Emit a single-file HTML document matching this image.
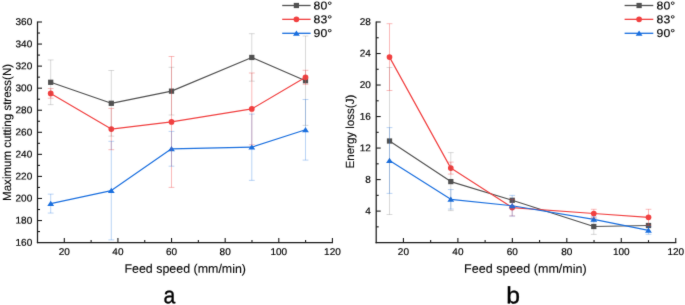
<!DOCTYPE html>
<html><head><meta charset="utf-8"><style>
html,body{margin:0;padding:0;background:#fff;width:685px;height:305px;overflow:hidden}
svg{display:block;font-family:"Liberation Sans",sans-serif;text-rendering:geometricPrecision}
text{fill:#000;stroke:#000;stroke-width:0.18px;stroke-linejoin:round}
text.t{stroke-width:0.12px;fill:#0a0a0a;stroke:#0a0a0a}
text.b{fill:#000;stroke:#000;stroke-width:0.35px}
</style></head><body>
<svg width="685" height="305" viewBox="0 0 685 305">
<defs><filter id="bl" filterUnits="userSpaceOnUse" x="0" y="0" width="685" height="305" color-interpolation-filters="sRGB"><feConvolveMatrix order="3" kernelMatrix="0.015 0.065 0.015 0.065 0.68 0.065 0.015 0.065 0.015" divisor="1" edgeMode="duplicate"/></filter></defs>
<g filter="url(#bl)"><rect width="685" height="305" fill="#fff"/>
<line x1="37.50" y1="21.50" x2="37.50" y2="243.20" stroke="#1a1a1a" stroke-width="1.25" />
<line x1="36.90" y1="242.60" x2="333.01" y2="242.60" stroke="#1a1a1a" stroke-width="1.25" />
<line x1="64.31" y1="242.60" x2="64.31" y2="238.10" stroke="#1a1a1a" stroke-width="1.1" />
<text transform="translate(64.31,255.00) rotate(0.1) scale(1.02,1.0)" font-size="9.8" text-anchor="middle">20</text>
<line x1="117.93" y1="242.60" x2="117.93" y2="238.10" stroke="#1a1a1a" stroke-width="1.1" />
<text transform="translate(117.93,255.00) rotate(0.1) scale(1.02,1.0)" font-size="9.8" text-anchor="middle">40</text>
<line x1="171.55" y1="242.60" x2="171.55" y2="238.10" stroke="#1a1a1a" stroke-width="1.1" />
<text transform="translate(171.55,255.00) rotate(0.1) scale(1.02,1.0)" font-size="9.8" text-anchor="middle">60</text>
<line x1="225.17" y1="242.60" x2="225.17" y2="238.10" stroke="#1a1a1a" stroke-width="1.1" />
<text transform="translate(225.17,255.00) rotate(0.1) scale(1.02,1.0)" font-size="9.8" text-anchor="middle">80</text>
<line x1="278.79" y1="242.60" x2="278.79" y2="238.10" stroke="#1a1a1a" stroke-width="1.1" />
<text transform="translate(278.79,255.00) rotate(0.1) scale(1.02,1.0)" font-size="9.8" text-anchor="middle">100</text>
<line x1="332.41" y1="242.60" x2="332.41" y2="238.10" stroke="#1a1a1a" stroke-width="1.1" />
<text transform="translate(332.41,255.00) rotate(0.1) scale(1.02,1.0)" font-size="9.8" text-anchor="middle">120</text>
<line x1="91.12" y1="242.60" x2="91.12" y2="240.10" stroke="#1a1a1a" stroke-width="1.1" />
<line x1="144.74" y1="242.60" x2="144.74" y2="240.10" stroke="#1a1a1a" stroke-width="1.1" />
<line x1="198.36" y1="242.60" x2="198.36" y2="240.10" stroke="#1a1a1a" stroke-width="1.1" />
<line x1="251.98" y1="242.60" x2="251.98" y2="240.10" stroke="#1a1a1a" stroke-width="1.1" />
<line x1="305.60" y1="242.60" x2="305.60" y2="240.10" stroke="#1a1a1a" stroke-width="1.1" />
<text transform="translate(32.20,245.70) rotate(0.1) scale(1.02,1.0)" font-size="9.8" text-anchor="end">160</text>
<line x1="37.50" y1="220.54" x2="42.00" y2="220.54" stroke="#1a1a1a" stroke-width="1.1" />
<text transform="translate(32.20,223.64) rotate(0.1) scale(1.02,1.0)" font-size="9.8" text-anchor="end">180</text>
<line x1="37.50" y1="198.48" x2="42.00" y2="198.48" stroke="#1a1a1a" stroke-width="1.1" />
<text transform="translate(32.20,201.58) rotate(0.1) scale(1.02,1.0)" font-size="9.8" text-anchor="end">200</text>
<line x1="37.50" y1="176.42" x2="42.00" y2="176.42" stroke="#1a1a1a" stroke-width="1.1" />
<text transform="translate(32.20,179.52) rotate(0.1) scale(1.02,1.0)" font-size="9.8" text-anchor="end">220</text>
<line x1="37.50" y1="154.36" x2="42.00" y2="154.36" stroke="#1a1a1a" stroke-width="1.1" />
<text transform="translate(32.20,157.46) rotate(0.1) scale(1.02,1.0)" font-size="9.8" text-anchor="end">240</text>
<line x1="37.50" y1="132.30" x2="42.00" y2="132.30" stroke="#1a1a1a" stroke-width="1.1" />
<text transform="translate(32.20,135.40) rotate(0.1) scale(1.02,1.0)" font-size="9.8" text-anchor="end">260</text>
<line x1="37.50" y1="110.24" x2="42.00" y2="110.24" stroke="#1a1a1a" stroke-width="1.1" />
<text transform="translate(32.20,113.34) rotate(0.1) scale(1.02,1.0)" font-size="9.8" text-anchor="end">280</text>
<line x1="37.50" y1="88.18" x2="42.00" y2="88.18" stroke="#1a1a1a" stroke-width="1.1" />
<text transform="translate(32.20,91.28) rotate(0.1) scale(1.02,1.0)" font-size="9.8" text-anchor="end">300</text>
<line x1="37.50" y1="66.12" x2="42.00" y2="66.12" stroke="#1a1a1a" stroke-width="1.1" />
<text transform="translate(32.20,69.22) rotate(0.1) scale(1.02,1.0)" font-size="9.8" text-anchor="end">320</text>
<line x1="37.50" y1="44.06" x2="42.00" y2="44.06" stroke="#1a1a1a" stroke-width="1.1" />
<text transform="translate(32.20,47.16) rotate(0.1) scale(1.02,1.0)" font-size="9.8" text-anchor="end">340</text>
<line x1="37.50" y1="22.00" x2="42.00" y2="22.00" stroke="#1a1a1a" stroke-width="1.1" />
<text transform="translate(32.20,25.10) rotate(0.1) scale(1.02,1.0)" font-size="9.8" text-anchor="end">360</text>
<line x1="37.50" y1="231.57" x2="40.00" y2="231.57" stroke="#1a1a1a" stroke-width="1.1" />
<line x1="37.50" y1="209.51" x2="40.00" y2="209.51" stroke="#1a1a1a" stroke-width="1.1" />
<line x1="37.50" y1="187.45" x2="40.00" y2="187.45" stroke="#1a1a1a" stroke-width="1.1" />
<line x1="37.50" y1="165.39" x2="40.00" y2="165.39" stroke="#1a1a1a" stroke-width="1.1" />
<line x1="37.50" y1="143.33" x2="40.00" y2="143.33" stroke="#1a1a1a" stroke-width="1.1" />
<line x1="37.50" y1="121.27" x2="40.00" y2="121.27" stroke="#1a1a1a" stroke-width="1.1" />
<line x1="37.50" y1="99.21" x2="40.00" y2="99.21" stroke="#1a1a1a" stroke-width="1.1" />
<line x1="37.50" y1="77.15" x2="40.00" y2="77.15" stroke="#1a1a1a" stroke-width="1.1" />
<line x1="37.50" y1="55.09" x2="40.00" y2="55.09" stroke="#1a1a1a" stroke-width="1.1" />
<line x1="37.50" y1="33.03" x2="40.00" y2="33.03" stroke="#1a1a1a" stroke-width="1.1" />
<text transform="translate(10.85,132.40) rotate(-90) scale(1.047400611620795,1.07)" font-size="11.0" text-anchor="middle" class="t">Maximum cutting stress(N)</text>
<text transform="translate(185.20,272.80) rotate(0.1) scale(1.081081081081081,1.08)" font-size="11.5" text-anchor="middle" class="t">Feed speed (mm/min)</text>
<text transform="translate(169.50,303.20) rotate(0.1) scale(0.9,1.0)" font-size="23.5" text-anchor="middle" class="b">a</text>
<polyline points="50.70,82.30 111.30,103.30 171.50,91.15 251.80,57.45 305.50,80.70" fill="none" stroke="#515151" stroke-width="1.2" stroke-linejoin="round"/>
<rect x="48.08" y="79.67" width="5.25" height="5.25" fill="#515151"/>
<rect x="108.67" y="100.67" width="5.25" height="5.25" fill="#515151"/>
<rect x="168.88" y="88.53" width="5.25" height="5.25" fill="#515151"/>
<rect x="249.18" y="54.83" width="5.25" height="5.25" fill="#515151"/>
<rect x="302.88" y="78.08" width="5.25" height="5.25" fill="#515151"/>
<polyline points="50.70,93.40 111.30,129.05 171.50,121.95 251.80,108.90 305.50,77.30" fill="none" stroke="#F14040" stroke-width="1.2" stroke-linejoin="round"/>
<circle cx="50.70" cy="93.40" r="2.85" fill="#F14040"/>
<circle cx="111.30" cy="129.05" r="2.85" fill="#F14040"/>
<circle cx="171.50" cy="121.95" r="2.85" fill="#F14040"/>
<circle cx="251.80" cy="108.90" r="2.85" fill="#F14040"/>
<circle cx="305.50" cy="77.30" r="2.85" fill="#F14040"/>
<polyline points="50.70,203.60 111.30,190.60 171.50,148.80 251.80,147.20 305.50,129.80" fill="none" stroke="#1A6FDF" stroke-width="1.2" stroke-linejoin="round"/>
<polygon points="50.70,200.80 54.10,206.00 47.30,206.00" fill="#1A6FDF"/>
<polygon points="111.30,187.80 114.70,193.00 107.90,193.00" fill="#1A6FDF"/>
<polygon points="171.50,146.00 174.90,151.20 168.10,151.20" fill="#1A6FDF"/>
<polygon points="251.80,144.40 255.20,149.60 248.40,149.60" fill="#1A6FDF"/>
<polygon points="305.50,127.00 308.90,132.20 302.10,132.20" fill="#1A6FDF"/>
<path d="M50.70,59.95V104.65M47.80,59.95H53.60M47.80,104.65H53.60" fill="none" stroke="#515151" stroke-opacity="0.22" stroke-width="1"/>
<path d="M111.30,70.50V136.10M108.40,70.50H114.20M108.40,136.10H114.20" fill="none" stroke="#515151" stroke-opacity="0.22" stroke-width="1"/>
<path d="M171.50,67.30V115.00M168.60,67.30H174.40M168.60,115.00H174.40" fill="none" stroke="#515151" stroke-opacity="0.22" stroke-width="1"/>
<path d="M251.80,33.70V81.20M248.90,33.70H254.70M248.90,81.20H254.70" fill="none" stroke="#515151" stroke-opacity="0.22" stroke-width="1"/>
<path d="M305.50,36.00V125.40M302.60,36.00H308.40M302.60,125.40H308.40" fill="none" stroke="#515151" stroke-opacity="0.22" stroke-width="1"/>
<path d="M50.70,88.60V98.20M47.80,88.60H53.60M47.80,98.20H53.60" fill="none" stroke="#F14040" stroke-opacity="0.36" stroke-width="1"/>
<path d="M111.30,108.40V149.70M108.40,108.40H114.20M108.40,149.70H114.20" fill="none" stroke="#F14040" stroke-opacity="0.36" stroke-width="1"/>
<path d="M171.50,56.50V187.40M168.60,56.50H174.40M168.60,187.40H174.40" fill="none" stroke="#F14040" stroke-opacity="0.36" stroke-width="1"/>
<path d="M251.80,73.00V144.80M248.90,73.00H254.70M248.90,144.80H254.70" fill="none" stroke="#F14040" stroke-opacity="0.36" stroke-width="1"/>
<path d="M305.50,70.30V84.30M302.60,70.30H308.40M302.60,84.30H308.40" fill="none" stroke="#F14040" stroke-opacity="0.36" stroke-width="1"/>
<path d="M50.70,194.15V213.05M47.80,194.15H53.60M47.80,213.05H53.60" fill="none" stroke="#1A6FDF" stroke-opacity="0.3" stroke-width="1"/>
<path d="M111.30,141.30V239.90M108.40,141.30H114.20M108.40,239.90H114.20" fill="none" stroke="#1A6FDF" stroke-opacity="0.3" stroke-width="1"/>
<path d="M171.50,131.40V166.20M168.60,131.40H174.40M168.60,166.20H174.40" fill="none" stroke="#1A6FDF" stroke-opacity="0.3" stroke-width="1"/>
<path d="M251.80,114.05V180.35M248.90,114.05H254.70M248.90,180.35H254.70" fill="none" stroke="#1A6FDF" stroke-opacity="0.3" stroke-width="1"/>
<path d="M305.50,99.50V160.10M302.60,99.50H308.40M302.60,160.10H308.40" fill="none" stroke="#1A6FDF" stroke-opacity="0.3" stroke-width="1"/>
<line x1="282.20" y1="5.50" x2="310.60" y2="5.50" stroke="#515151" stroke-width="1.3" />
<rect x="293.77" y="2.88" width="5.25" height="5.25" fill="#515151"/>
<text transform="translate(313.60,9.60) rotate(0.1) scale(1.06,1.0)" font-size="11.5" text-anchor="start">80°</text>
<line x1="282.20" y1="19.35" x2="310.60" y2="19.35" stroke="#F14040" stroke-width="1.3" />
<circle cx="296.40" cy="19.35" r="2.85" fill="#F14040"/>
<text transform="translate(313.60,23.30) rotate(0.1) scale(1.06,1.0)" font-size="11.5" text-anchor="start">83°</text>
<line x1="282.20" y1="33.30" x2="310.60" y2="33.30" stroke="#1A6FDF" stroke-width="1.3" />
<polygon points="296.40,30.50 299.80,35.70 293.00,35.70" fill="#1A6FDF"/>
<text transform="translate(313.60,37.10) rotate(0.1) scale(1.06,1.0)" font-size="11.5" text-anchor="start">90°</text>
<line x1="376.20" y1="21.50" x2="376.20" y2="243.21" stroke="#1a1a1a" stroke-width="1.25" />
<line x1="375.60" y1="242.61" x2="676.33" y2="242.61" stroke="#1a1a1a" stroke-width="1.25" />
<line x1="403.43" y1="242.61" x2="403.43" y2="238.11" stroke="#1a1a1a" stroke-width="1.1" />
<text transform="translate(403.43,255.00) rotate(0.1) scale(1.02,1.0)" font-size="9.8" text-anchor="middle">20</text>
<line x1="457.89" y1="242.61" x2="457.89" y2="238.11" stroke="#1a1a1a" stroke-width="1.1" />
<text transform="translate(457.89,255.00) rotate(0.1) scale(1.02,1.0)" font-size="9.8" text-anchor="middle">40</text>
<line x1="512.35" y1="242.61" x2="512.35" y2="238.11" stroke="#1a1a1a" stroke-width="1.1" />
<text transform="translate(512.35,255.00) rotate(0.1) scale(1.02,1.0)" font-size="9.8" text-anchor="middle">60</text>
<line x1="566.81" y1="242.61" x2="566.81" y2="238.11" stroke="#1a1a1a" stroke-width="1.1" />
<text transform="translate(566.81,255.00) rotate(0.1) scale(1.02,1.0)" font-size="9.8" text-anchor="middle">80</text>
<line x1="621.27" y1="242.61" x2="621.27" y2="238.11" stroke="#1a1a1a" stroke-width="1.1" />
<text transform="translate(621.27,255.00) rotate(0.1) scale(1.02,1.0)" font-size="9.8" text-anchor="middle">100</text>
<line x1="675.73" y1="242.61" x2="675.73" y2="238.11" stroke="#1a1a1a" stroke-width="1.1" />
<text transform="translate(675.73,255.00) rotate(0.1) scale(1.02,1.0)" font-size="9.8" text-anchor="middle">120</text>
<line x1="430.66" y1="242.61" x2="430.66" y2="240.11" stroke="#1a1a1a" stroke-width="1.1" />
<line x1="485.12" y1="242.61" x2="485.12" y2="240.11" stroke="#1a1a1a" stroke-width="1.1" />
<line x1="539.58" y1="242.61" x2="539.58" y2="240.11" stroke="#1a1a1a" stroke-width="1.1" />
<line x1="594.04" y1="242.61" x2="594.04" y2="240.11" stroke="#1a1a1a" stroke-width="1.1" />
<line x1="648.50" y1="242.61" x2="648.50" y2="240.11" stroke="#1a1a1a" stroke-width="1.1" />
<line x1="376.20" y1="211.10" x2="380.70" y2="211.10" stroke="#1a1a1a" stroke-width="1.1" />
<text transform="translate(370.80,214.20) rotate(0.1) scale(1.02,1.0)" font-size="9.8" text-anchor="end">4</text>
<line x1="376.20" y1="179.58" x2="380.70" y2="179.58" stroke="#1a1a1a" stroke-width="1.1" />
<text transform="translate(370.80,182.68) rotate(0.1) scale(1.02,1.0)" font-size="9.8" text-anchor="end">8</text>
<line x1="376.20" y1="148.06" x2="380.70" y2="148.06" stroke="#1a1a1a" stroke-width="1.1" />
<text transform="translate(370.80,151.16) rotate(0.1) scale(1.02,1.0)" font-size="9.8" text-anchor="end">12</text>
<line x1="376.20" y1="116.55" x2="380.70" y2="116.55" stroke="#1a1a1a" stroke-width="1.1" />
<text transform="translate(370.80,119.65) rotate(0.1) scale(1.02,1.0)" font-size="9.8" text-anchor="end">16</text>
<line x1="376.20" y1="85.03" x2="380.70" y2="85.03" stroke="#1a1a1a" stroke-width="1.1" />
<text transform="translate(370.80,88.13) rotate(0.1) scale(1.02,1.0)" font-size="9.8" text-anchor="end">20</text>
<line x1="376.20" y1="53.52" x2="380.70" y2="53.52" stroke="#1a1a1a" stroke-width="1.1" />
<text transform="translate(370.80,56.62) rotate(0.1) scale(1.02,1.0)" font-size="9.8" text-anchor="end">24</text>
<line x1="376.20" y1="22.00" x2="380.70" y2="22.00" stroke="#1a1a1a" stroke-width="1.1" />
<text transform="translate(370.80,25.10) rotate(0.1) scale(1.02,1.0)" font-size="9.8" text-anchor="end">28</text>
<line x1="376.20" y1="226.85" x2="378.70" y2="226.85" stroke="#1a1a1a" stroke-width="1.1" />
<line x1="376.20" y1="195.34" x2="378.70" y2="195.34" stroke="#1a1a1a" stroke-width="1.1" />
<line x1="376.20" y1="163.82" x2="378.70" y2="163.82" stroke="#1a1a1a" stroke-width="1.1" />
<line x1="376.20" y1="132.31" x2="378.70" y2="132.31" stroke="#1a1a1a" stroke-width="1.1" />
<line x1="376.20" y1="100.79" x2="378.70" y2="100.79" stroke="#1a1a1a" stroke-width="1.1" />
<line x1="376.20" y1="69.27" x2="378.70" y2="69.27" stroke="#1a1a1a" stroke-width="1.1" />
<line x1="376.20" y1="37.76" x2="378.70" y2="37.76" stroke="#1a1a1a" stroke-width="1.1" />
<text transform="translate(353.80,131.60) rotate(-90) scale(1.0497866287339972,1.07)" font-size="11.0" text-anchor="middle" class="t">Energy loss(J)</text>
<text transform="translate(525.40,272.80) rotate(0.1) scale(1.0899715504978662,1.08)" font-size="11.5" text-anchor="middle" class="t">Feed speed (mm/min)</text>
<text transform="translate(513.20,303.20) rotate(0.1) scale(1.05,1.0)" font-size="23.5" text-anchor="middle" class="b">b</text>
<polyline points="389.50,141.00 450.80,181.60 512.20,200.30 593.80,226.50 648.50,225.50" fill="none" stroke="#515151" stroke-width="1.2" stroke-linejoin="round"/>
<rect x="386.88" y="138.38" width="5.25" height="5.25" fill="#515151"/>
<rect x="448.18" y="178.97" width="5.25" height="5.25" fill="#515151"/>
<rect x="509.58" y="197.68" width="5.25" height="5.25" fill="#515151"/>
<rect x="591.17" y="223.88" width="5.25" height="5.25" fill="#515151"/>
<rect x="645.88" y="222.88" width="5.25" height="5.25" fill="#515151"/>
<polyline points="389.50,57.10 450.80,168.10 512.20,207.60 593.80,213.50 648.50,217.30" fill="none" stroke="#F14040" stroke-width="1.2" stroke-linejoin="round"/>
<circle cx="389.50" cy="57.10" r="2.85" fill="#F14040"/>
<circle cx="450.80" cy="168.10" r="2.85" fill="#F14040"/>
<circle cx="512.20" cy="207.60" r="2.85" fill="#F14040"/>
<circle cx="593.80" cy="213.50" r="2.85" fill="#F14040"/>
<circle cx="648.50" cy="217.30" r="2.85" fill="#F14040"/>
<polyline points="389.50,160.50 450.80,199.30 512.20,205.75 593.80,219.30 648.50,230.40" fill="none" stroke="#1A6FDF" stroke-width="1.2" stroke-linejoin="round"/>
<polygon points="389.50,157.70 392.90,162.90 386.10,162.90" fill="#1A6FDF"/>
<polygon points="450.80,196.50 454.20,201.70 447.40,201.70" fill="#1A6FDF"/>
<polygon points="512.20,202.95 515.60,208.15 508.80,208.15" fill="#1A6FDF"/>
<polygon points="593.80,216.50 597.20,221.70 590.40,221.70" fill="#1A6FDF"/>
<polygon points="648.50,227.60 651.90,232.80 645.10,232.80" fill="#1A6FDF"/>
<path d="M389.50,67.50V214.50M386.60,67.50H392.40M386.60,214.50H392.40" fill="none" stroke="#515151" stroke-opacity="0.22" stroke-width="1"/>
<path d="M450.80,152.60V210.60M447.90,152.60H453.70M447.90,210.60H453.70" fill="none" stroke="#515151" stroke-opacity="0.22" stroke-width="1"/>
<path d="M512.20,199.50V201.10M509.30,199.50H515.10M509.30,201.10H515.10" fill="none" stroke="#515151" stroke-opacity="0.22" stroke-width="1"/>
<path d="M593.80,218.60V234.40M590.90,218.60H596.70M590.90,234.40H596.70" fill="none" stroke="#515151" stroke-opacity="0.22" stroke-width="1"/>
<path d="M648.50,224.00V227.00M645.60,224.00H651.40M645.60,227.00H651.40" fill="none" stroke="#515151" stroke-opacity="0.22" stroke-width="1"/>
<path d="M389.50,23.70V90.50M386.60,23.70H392.40M386.60,90.50H392.40" fill="none" stroke="#F14040" stroke-opacity="0.36" stroke-width="1"/>
<path d="M450.80,162.10V174.10M447.90,162.10H453.70M447.90,174.10H453.70" fill="none" stroke="#F14040" stroke-opacity="0.36" stroke-width="1"/>
<path d="M512.20,199.30V215.90M509.30,199.30H515.10M509.30,215.90H515.10" fill="none" stroke="#F14040" stroke-opacity="0.36" stroke-width="1"/>
<path d="M593.80,209.30V217.70M590.90,209.30H596.70M590.90,217.70H596.70" fill="none" stroke="#F14040" stroke-opacity="0.36" stroke-width="1"/>
<path d="M648.50,209.30V225.30M645.60,209.30H651.40M645.60,225.30H651.40" fill="none" stroke="#F14040" stroke-opacity="0.36" stroke-width="1"/>
<path d="M389.50,127.60V193.40M386.60,127.60H392.40M386.60,193.40H392.40" fill="none" stroke="#1A6FDF" stroke-opacity="0.3" stroke-width="1"/>
<path d="M450.80,189.55V209.05M447.90,189.55H453.70M447.90,209.05H453.70" fill="none" stroke="#1A6FDF" stroke-opacity="0.3" stroke-width="1"/>
<path d="M512.20,195.40V216.10M509.30,195.40H515.10M509.30,216.10H515.10" fill="none" stroke="#1A6FDF" stroke-opacity="0.3" stroke-width="1"/>
<path d="M593.80,216.80V221.80M590.90,216.80H596.70M590.90,221.80H596.70" fill="none" stroke="#1A6FDF" stroke-opacity="0.3" stroke-width="1"/>
<path d="M648.50,226.50V234.30M645.60,226.50H651.40M645.60,234.30H651.40" fill="none" stroke="#1A6FDF" stroke-opacity="0.3" stroke-width="1"/>
<line x1="624.60" y1="5.50" x2="653.30" y2="5.50" stroke="#515151" stroke-width="1.3" />
<rect x="636.48" y="2.88" width="5.25" height="5.25" fill="#515151"/>
<text transform="translate(656.60,9.60) rotate(0.1) scale(1.06,1.0)" font-size="11.5" text-anchor="start">80°</text>
<line x1="624.60" y1="19.35" x2="653.30" y2="19.35" stroke="#F14040" stroke-width="1.3" />
<circle cx="639.10" cy="19.35" r="2.85" fill="#F14040"/>
<text transform="translate(656.60,23.30) rotate(0.1) scale(1.06,1.0)" font-size="11.5" text-anchor="start">83°</text>
<line x1="624.60" y1="33.30" x2="653.30" y2="33.30" stroke="#1A6FDF" stroke-width="1.3" />
<polygon points="639.10,30.50 642.50,35.70 635.70,35.70" fill="#1A6FDF"/>
<text transform="translate(656.60,37.10) rotate(0.1) scale(1.06,1.0)" font-size="11.5" text-anchor="start">90°</text>
</g></svg>
</body></html>
